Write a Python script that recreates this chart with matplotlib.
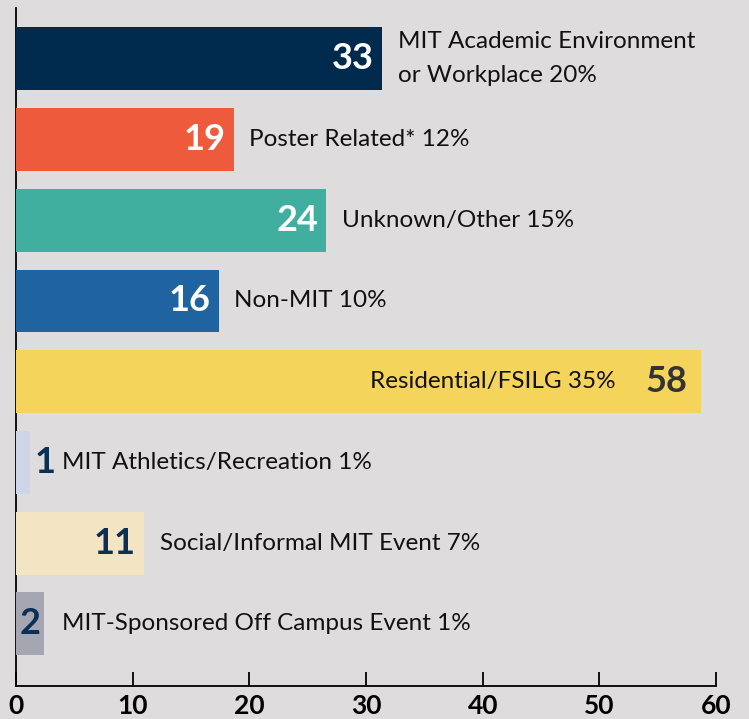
import matplotlib.pyplot as plt

# Data
categories = [
    "MIT Academic Environment\nor Workplace 20%",
    "Poster Related* 12%",
    "Unknown/Other 15%",
    "Non-MIT 10%",
    "Residential/FSILG 35%",
    "MIT Athletics/Recreation 1%",
    "Social/Informal MIT Event 7%",
    "MIT-Sponsored Off Campus Event 1%",
]
counts = [33, 19, 24, 16, 58, 1, 11, 2]
# bar lengths as drawn against the axis (they don't quite match the counts)
bar_lengths = [31.4, 18.7, 26.6, 17.4, 58.7, 1.2, 11.0, 2.4]
xticks = [0, 10, 20, 30, 40, 50, 60]

colors = ["#002a4d", "#ee5a3c", "#41afa0", "#1f63a0",
          "#f5d45c", "#cdd5e6", "#f3e4c4", "#a6a6b2"]
num_colors = ["white", "white", "white", "white",
              "#333333", "#0b2f55", "#0b2f55", "#0b2f55"]
# where the count and the label go for each bar
modes = ["inside", "inside", "inside", "inside",
         "inside_both", "outside", "inside", "center"]

bg = "#dedcdd"
font = "Lato"
plt.rcParams["font.family"] = [font, "DejaVu Sans"]

fig = plt.figure(figsize=(7.49, 7.19), dpi=100, facecolor=bg)
ax = fig.add_axes([16 / 749, 33 / 719, 700 / 749, 678 / 719], facecolor=bg)

ypos = list(range(len(counts)))
ax.barh(ypos, bar_lengths, height=0.78, color=colors, zorder=3)

for y, n, w, lab, nc, m in zip(ypos, counts, bar_lengths, categories, num_colors, modes):
    if m == "inside":
        ax.annotate(str(n), (w, y), xytext=(-6, 0), textcoords="offset points",
                    ha="right", va="center", fontsize=26, fontweight="bold",
                    color=nc, zorder=4)
        ax.annotate(lab, (w, y), xytext=(11, 0), textcoords="offset points",
                    ha="left", va="center", fontsize=17.5, color="#111111",
                    linespacing=1.75, zorder=4)
    elif m == "inside_both":
        ax.annotate(str(n), (w, y), xytext=(-10, 0), textcoords="offset points",
                    ha="right", va="center", fontsize=26, fontweight="bold",
                    color=nc, zorder=4)
        ax.annotate(lab, (w, y), xytext=(-61, 0), textcoords="offset points",
                    ha="right", va="center", fontsize=17.5, color="#111111", zorder=4)
    elif m == "outside":
        ax.annotate(str(n), (w, y), xytext=(3, 0), textcoords="offset points",
                    ha="left", va="center", fontsize=26, fontweight="bold",
                    color=nc, zorder=4)
        ax.annotate(lab, (w, y), xytext=(23, 0), textcoords="offset points",
                    ha="left", va="center", fontsize=17.5, color="#111111", zorder=4)
    else:  # centered in a tiny bar
        ax.annotate(str(n), (w / 2, y), ha="center", va="center", fontsize=26,
                    fontweight="bold", color=nc, zorder=4)
        ax.annotate(lab, (w, y), xytext=(13, 0), textcoords="offset points",
                    ha="left", va="center", fontsize=17.5, color="#111111", zorder=4)

ax.set_xlim(0, 60)
ax.set_ylim(7.77, -0.63)
ax.set_xticks(xticks)
ax.set_xticklabels([str(t) for t in xticks], fontsize=19, fontweight="bold")
ax.set_yticks([])
ax.tick_params(axis="x", direction="in", length=10, width=1.3, pad=6, colors="black")
for s in ["top", "right"]:
    ax.spines[s].set_visible(False)
for s in ["left", "bottom"]:
    ax.spines[s].set_linewidth(1.3)
    ax.spines[s].set_color("black")

fig.savefig("out.png", dpi=100, facecolor=bg)
